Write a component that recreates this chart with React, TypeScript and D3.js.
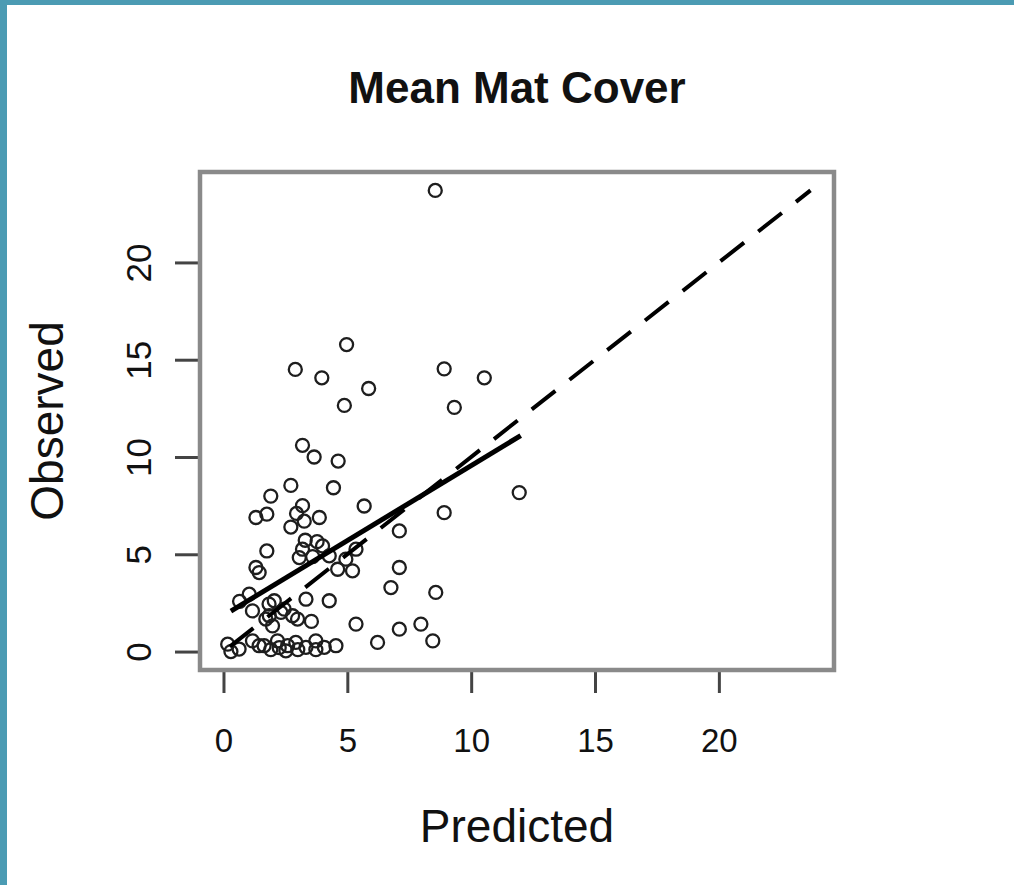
import React, { useEffect, useRef } from "react";
import * as d3 from "d3";

// values: predicted (x) and observed (y) for each site
const predicted = [
  8.55, 4.97, 2.9, 3.97, 5.86, 4.88, 8.91, 10.53, 9.32, 3.19, 3.66, 4.63, 2.72, 1.91, 4.44, 5.68,
  11.94, 8.91, 1.31, 1.75, 2.72, 3.19, 2.95, 3.26, 3.87, 7.1, 1.75, 1.44, 3.3, 3.78, 4.0, 3.19,
  3.06, 3.6, 4.27, 4.61, 5.21, 7.1, 5.35, 4.94, 6.76, 8.57, 3.33, 4.27, 1.04, 0.65, 2.05, 1.84,
  2.45, 2.99, 3.55, 1.85, 2.32, 2.79, 1.71, 1.17, 1.98, 5.35, 7.1, 7.97, 8.45, 6.22, 1.31,
  0.17, 0.63, 0.3, 1.17, 1.44, 1.64, 1.91, 2.18, 2.25, 2.52, 2.59, 2.92, 3.0, 3.33, 3.73, 3.73,
  4.07, 4.54,
];
const observed = [
  23.7, 15.78, 14.5, 14.07, 13.52, 12.65, 14.53, 14.07, 12.55, 10.6, 10.0, 9.79, 8.54, 7.99, 8.42, 7.48,
  8.17, 7.14, 6.89, 7.06, 6.4, 7.5, 7.1, 6.7, 6.89, 6.2, 5.17, 4.06, 5.72, 5.65, 5.43, 5.26,
  4.83, 4.88, 4.92, 4.23, 4.15, 4.32, 5.26, 4.75, 3.29, 3.04, 2.69, 2.61, 2.95, 2.58, 2.61, 2.44,
  2.18, 1.67, 1.55, 1.84, 2.01, 1.84, 1.67, 2.09, 1.32, 1.41, 1.15, 1.41, 0.55, 0.47, 4.32,
  0.38, 0.13, 0.0, 0.55, 0.3, 0.3, 0.1, 0.55, 0.2, 0.04, 0.3, 0.47, 0.1, 0.22, 0.55, 0.1,
  0.22, 0.3,
];

// fitted line (solid) and 1:1 reference line (dashed)
const fitPredicted = [0.3, 12.0];
const fitObserved = [2.08, 11.1];
const oneToOne = [0, 23.7];

const xTicks = [0, 5, 10, 15, 20];
const yTicks = [0, 5, 10, 15, 20];
const axisLimits = [0, 23.7];

const title = "Mean Mat Cover";
const xLabel = "Predicted";
const yLabel = "Observed";

const App = () => {
  const chartRef = useRef<SVGSVGElement | null>(null);

  useEffect(() => {
    const width = 1014;
    const height = 885;
    const left = 200;
    const right = 834;
    const top = 172;
    const bottom = 670;
    const font = "'Liberation Sans', Arial, Helvetica, sans-serif";

    const svg = d3.select(chartRef.current);
    svg.selectAll("*").remove();
    svg.attr("width", width).attr("height", height);

    svg.append("rect").attr("width", width).attr("height", height).attr("fill", "#fff");
    // teal frame of the screenshot
    svg.append("rect").attr("width", width).attr("height", 5).attr("fill", "#4b9bb3");
    svg.append("rect").attr("width", 7).attr("height", height).attr("fill", "#4b9bb3");

    // R style 4% padding around the data range
    const pad = (axisLimits[1] - axisLimits[0]) * 0.04;
    const domain = [axisLimits[0] - pad, axisLimits[1] + pad];
    const x = d3.scaleLinear().domain(domain).range([left, right]);
    const y = d3.scaleLinear().domain(domain).range([bottom, top]);

    const xAxis = svg
      .append("g")
      .attr("transform", `translate(0, ${bottom})`)
      .call(d3.axisBottom(x).tickValues(xTicks).tickSize(23).tickPadding(36).tickFormat(d3.format("d")));
    xAxis.select(".domain").remove();
    xAxis.selectAll("line").attr("stroke", "#444").attr("stroke-width", 3);
    xAxis.selectAll("text").attr("font-family", font).attr("font-size", 33).attr("fill", "#111");

    const yAxis = svg
      .append("g")
      .attr("transform", `translate(${left}, 0)`)
      .call(d3.axisLeft(y).tickValues(yTicks).tickSize(25).tickFormat(d3.format("d")));
    yAxis.select(".domain").remove();
    yAxis.selectAll("line").attr("stroke", "#444").attr("stroke-width", 3);
    yAxis
      .selectAll("text")
      .attr("x", null)
      .attr("dy", null)
      .attr("text-anchor", "middle")
      .attr("transform", "translate(-49, 0) rotate(-90)")
      .attr("font-family", font)
      .attr("font-size", 35)
      .attr("fill", "#111");

    // points
    svg
      .append("g")
      .selectAll("circle")
      .data(predicted)
      .enter()
      .append("circle")
      .attr("cx", (d) => x(d))
      .attr("cy", (d, i) => y(observed[i]))
      .attr("r", 6.5)
      .attr("fill", "none")
      .attr("stroke", "#1e1e1e")
      .attr("stroke-width", 2.3);

    const line = d3
      .line<number>()
      .x((d) => x(d))
      .y((d) => y(d));

    svg
      .append("path")
      .attr("d", line(oneToOne))
      .attr("fill", "none")
      .attr("stroke", "#000")
      .attr("stroke-width", 4)
      .attr("stroke-dasharray", "30,18")
      .attr("stroke-dashoffset", -8);

    const fitLine = d3
      .line<number>()
      .x((d) => x(d))
      .y((d, i) => y(fitObserved[i]));

    svg
      .append("path")
      .attr("d", fitLine(fitPredicted))
      .attr("fill", "none")
      .attr("stroke", "#000")
      .attr("stroke-width", 5);

    // box
    svg
      .append("rect")
      .attr("x", left)
      .attr("y", top)
      .attr("width", right - left)
      .attr("height", bottom - top)
      .attr("fill", "none")
      .attr("stroke", "#8a8a8a")
      .attr("stroke-width", 4.5);

    svg
      .append("text")
      .attr("x", (left + right) / 2)
      .attr("y", 103)
      .attr("text-anchor", "middle")
      .attr("font-family", font)
      .attr("font-weight", "bold")
      .attr("font-size", 44)
      .attr("fill", "#111")
      .text(title);

    svg
      .append("text")
      .attr("x", (left + right) / 2)
      .attr("y", 842)
      .attr("text-anchor", "middle")
      .attr("font-family", font)
      .attr("font-size", 46)
      .attr("fill", "#111")
      .text(xLabel);

    svg
      .append("text")
      .attr("transform", `translate(63, ${(top + bottom) / 2}) rotate(-90)`)
      .attr("text-anchor", "middle")
      .attr("font-family", font)
      .attr("font-size", 46)
      .attr("fill", "#111")
      .text(yLabel);
  }, []);

  return (
    <div style={{ position: "absolute", left: 0, top: 0 }}>
      <svg ref={chartRef} style={{ display: "block" }}></svg>
    </div>
  );
};

export default App;
